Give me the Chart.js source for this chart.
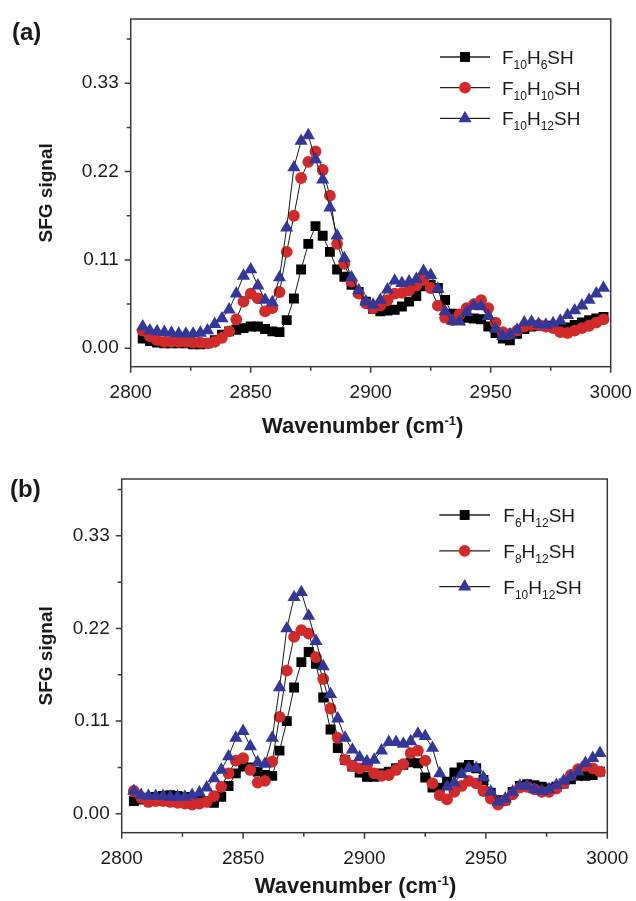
<!DOCTYPE html>
<html><head><meta charset="utf-8">
<script src="https://cdn.jsdelivr.net/npm/chart.js@4"></script>
<style>
html,body{margin:0;padding:0;background:#fff;}
#wrap{position:relative;width:636px;height:901px;overflow:hidden;}
canvas{position:absolute;left:0;}
</style></head><body>
<div id="wrap">
<canvas id="ca" width="636" height="450" style="top:0"></canvas>
<canvas id="cb" width="636" height="451" style="top:450px"></canvas>
</div>
<script>
// ---------- data ----------
const wavenumbers = [2805,2808,2811,2814,2817,2820,2823,2826,2829,2832,
  2835,2838,2841,2844,2847,2850,2853,2856,2859,2862,
  2865,2868,2871,2874,2877,2880,2883,2886,2889,2892,
  2895,2898,2901,2904,2907,2910,2913,2916,2919,2922,
  2925,2928,2931,2934,2937,2940,2943,2946,2949,2952,
  2955,2958,2961,2964,2967,2970,2973,2976,2979,2982,
  2985,2988,2991,2994,2997];

// panel (a)
const aF10H6 = [0.012,0.009,0.007,0.006,0.006,0.006,0.006,0.005,0.005,0.006,
  0.010,0.017,0.021,0.023,0.025,0.027,0.027,0.024,0.021,0.020,
  0.035,0.062,0.098,0.130,0.152,0.140,0.120,0.098,0.089,0.079,
  0.070,0.058,0.049,0.046,0.047,0.048,0.052,0.058,0.065,0.077,
  0.079,0.075,0.060,0.043,0.041,0.038,0.037,0.036,0.027,0.019,
  0.012,0.010,0.018,0.024,0.027,0.028,0.028,0.027,0.026,0.026,
  0.029,0.032,0.035,0.037,0.039];
const aF10H10 = [0.022,0.015,0.010,0.008,0.008,0.008,0.008,0.007,0.007,0.006,
  0.008,0.013,0.021,0.036,0.058,0.068,0.062,0.046,0.050,0.070,
  0.120,0.165,0.212,0.232,0.245,0.222,0.190,0.130,0.105,0.083,
  0.068,0.056,0.050,0.053,0.060,0.068,0.069,0.072,0.078,0.085,
  0.075,0.053,0.038,0.035,0.042,0.050,0.055,0.060,0.050,0.032,
  0.020,0.018,0.022,0.027,0.029,0.029,0.027,0.025,0.020,0.019,
  0.022,0.025,0.028,0.032,0.036];
const aF10H12 = [0.027,0.022,0.021,0.020,0.019,0.018,0.018,0.018,0.019,0.022,
  0.030,0.037,0.048,0.068,0.090,0.098,0.078,0.060,0.057,0.088,
  0.150,0.225,0.258,0.265,0.235,0.210,0.175,0.140,0.112,0.088,
  0.072,0.058,0.054,0.060,0.073,0.084,0.081,0.083,0.086,0.096,
  0.091,0.074,0.046,0.034,0.033,0.045,0.053,0.052,0.040,0.024,
  0.015,0.017,0.023,0.032,0.033,0.030,0.029,0.031,0.034,0.041,
  0.047,0.053,0.060,0.068,0.075];

// panel (b)
const bF6H12 = [0.015,0.017,0.019,0.020,0.021,0.022,0.021,0.020,0.019,0.017,
  0.015,0.013,0.020,0.033,0.048,0.056,0.055,0.050,0.046,0.045,
  0.075,0.110,0.150,0.180,0.192,0.178,0.138,0.100,0.078,0.064,
  0.056,0.049,0.044,0.044,0.048,0.050,0.054,0.058,0.061,0.060,
  0.043,0.031,0.031,0.038,0.049,0.055,0.058,0.054,0.040,0.025,
  0.016,0.016,0.026,0.033,0.035,0.034,0.032,0.030,0.032,0.036,
  0.041,0.045,0.045,0.046,0.050];
const bF8H12 = [0.027,0.019,0.014,0.015,0.015,0.014,0.013,0.012,0.011,0.012,
  0.014,0.021,0.032,0.048,0.063,0.066,0.052,0.037,0.039,0.062,
  0.115,0.170,0.210,0.218,0.214,0.186,0.160,0.125,0.090,0.064,
  0.057,0.054,0.057,0.048,0.045,0.046,0.052,0.059,0.072,0.075,
  0.063,0.036,0.022,0.017,0.026,0.033,0.039,0.036,0.027,0.018,
  0.011,0.016,0.023,0.031,0.032,0.029,0.026,0.026,0.030,0.036,
  0.046,0.053,0.057,0.054,0.050];
const bF10H12 = [0.027,0.022,0.021,0.021,0.021,0.020,0.020,0.020,0.022,0.025,
  0.031,0.042,0.052,0.068,0.090,0.098,0.080,0.061,0.059,0.090,
  0.150,0.220,0.257,0.263,0.235,0.205,0.175,0.142,0.113,0.090,
  0.076,0.067,0.062,0.064,0.075,0.085,0.085,0.083,0.086,0.095,
  0.092,0.078,0.048,0.032,0.037,0.047,0.054,0.054,0.043,0.026,
  0.014,0.018,0.026,0.033,0.033,0.029,0.027,0.029,0.034,0.039,
  0.044,0.050,0.060,0.066,0.072];

const legendA = ['F_{10}H_{6}SH', 'F_{10}H_{10}SH', 'F_{10}H_{12}SH'];
const legendB = ['F_{6}H_{12}SH', 'F_{8}H_{12}SH', 'F_{10}H_{12}SH'];

const xMajorTicks = [2800, 2850, 2900, 2950, 3000];
const xMinorTicks = [2825, 2875, 2925, 2975];
const yMajorTicks = [0.00, 0.11, 0.22, 0.33];
const yMinorTicks = [0.055, 0.165, 0.275, 0.385];
const xTitle = 'Wavenumber (cm^{-1})';
const yTitle = 'SFG signal';

// ---------- styles ----------
const FONT = '"Liberation Sans", Arial, Helvetica, sans-serif';
const AXIS = '#3a3a3a';
const TXT = '#1a1a1a';
const styles = [
  {color:'#000000', shape:'rect', r:7.0},
  {color:'#d12a2a', shape:'circle', r:5.9},
  {color:'#34379a', shape:'triangle', r:7.6}
];

function parseRich(s){
  const out=[]; const re=/([_^])\{([^}]*)\}|([^_^]+)/g; let m;
  while((m=re.exec(s))){ if(m[3]) out.push({t:m[3],k:0}); else out.push({t:m[2],k:m[1]==='_'?1:2}); }
  return out;
}
function richWidth(ctx, parts, size, small, bold){
  let w=0;
  parts.forEach(p=>{ctx.font=(bold?'bold ':'')+(p.k?small:size)+'px '+FONT; w+=ctx.measureText(p.t).width;});
  return w;
}
function drawRich(ctx, parts, x, y, size, small, off, bold){
  ctx.textAlign='left'; ctx.textBaseline='alphabetic';
  parts.forEach(p=>{
    ctx.font=(bold?'bold ':'')+(p.k?small:size)+'px '+FONT;
    const dy = p.k===1 ? off : (p.k===2 ? -off : 0);
    ctx.fillText(p.t, x, y+dy);
    x += ctx.measureText(p.t).width;
  });
}
function drawMarker(ctx, st, x, y){
  ctx.fillStyle=st.color; ctx.beginPath();
  if(st.shape==='rect'){ const s=Math.SQRT1_2*st.r; ctx.rect(x-s,y-s,2*s,2*s); }
  else if(st.shape==='circle'){ ctx.arc(x,y,st.r,0,Math.PI*2); }
  else { const r=st.r; ctx.moveTo(x,y-r); ctx.lineTo(x+r*Math.sin(2*Math.PI/3),y-r*Math.cos(2*Math.PI/3)); ctx.lineTo(x+r*Math.sin(4*Math.PI/3),y-r*Math.cos(4*Math.PI/3)); ctx.closePath(); }
  ctx.fill();
}

const decor = {
  id:'decor',
  afterDraw(chart, args, o){
    const {ctx, chartArea:a, scales:{x,y}} = chart;
    ctx.save();
    // frame
    ctx.strokeStyle=AXIS; ctx.lineWidth=1.5;
    ctx.strokeRect(a.left, a.top, a.right-a.left, a.bottom-a.top);
    ctx.beginPath();
    xMajorTicks.forEach(v=>{const p=x.getPixelForValue(v); ctx.moveTo(p,a.bottom); ctx.lineTo(p,a.bottom+6);});
    xMinorTicks.forEach(v=>{const p=x.getPixelForValue(v); ctx.moveTo(p,a.bottom); ctx.lineTo(p,a.bottom+4);});
    yMajorTicks.forEach(v=>{const p=y.getPixelForValue(v); ctx.moveTo(a.left,p); ctx.lineTo(a.left-6,p);});
    yMinorTicks.forEach(v=>{const p=y.getPixelForValue(v); ctx.moveTo(a.left,p); ctx.lineTo(a.left-4,p);});
    ctx.stroke();
    // legend
    o.labels.forEach((lab,i)=>{
      const ry = a.top + o.legTop + i*o.legGap;
      const lx1 = a.right + o.legLine[0], lx2 = a.right + o.legLine[1];
      ctx.strokeStyle='#222'; ctx.lineWidth=1.3;
      ctx.beginPath(); ctx.moveTo(lx1,ry); ctx.lineTo(lx2,ry); ctx.stroke();
      drawMarker(ctx, styles[i], (lx1+lx2)/2, ry);
      ctx.fillStyle=TXT;
      drawRich(ctx, parseRich(lab), a.right + o.legText, ry+7, 19, 12, 5, false);
    });
    // axis titles
    ctx.fillStyle=TXT;
    const tp = parseRich(xTitle);
    const tw = richWidth(ctx, tp, 22, 13, true);
    drawRich(ctx, tp, (a.left+a.right)/2 - o.xTitleShift - tw/2, o.xTitleY, 22, 13, 8, true);
    ctx.save();
    ctx.translate(47, (a.top+a.bottom)/2); ctx.rotate(-Math.PI/2);
    ctx.font='bold 19px '+FONT; ctx.textAlign='center'; ctx.textBaseline='middle';
    ctx.fillText(yTitle, 0, 0);
    ctx.restore();
    // panel letter
    ctx.font='bold 24px '+FONT; ctx.textAlign='left'; ctx.textBaseline='alphabetic';
    ctx.fillText(o.letter, o.letterX, o.letterY);
    ctx.restore();
  }
};

function makeChart(id, series, labels, geo){
  const datasets = series.map((vals,i)=>({
    label: labels[i],
    data: wavenumbers.map((w,j)=>({x:w, y:vals[j]})),
    borderColor:'#1a1a1a', borderWidth:1, tension:0,
    pointStyle: styles[i].shape, pointRadius: styles[i].r,
    pointBackgroundColor: styles[i].color, pointBorderWidth:0,
    pointHoverRadius: styles[i].r,
    order: 3-i
  }));
  return new Chart(document.getElementById(id), {
    type:'line',
    data:{datasets},
    plugins:[decor],
    options:{
      responsive:false, animation:false, devicePixelRatio:1,
      layout:{padding:{left:0, top:geo.top, right:geo.right, bottom:0}},
      plugins:{legend:{display:false}, tooltip:{enabled:false},
        decor:{labels, letter:geo.letter, letterX:geo.letterX, letterY:geo.letterY,
          legTop:geo.legTop, legGap:geo.legGap, legLine:geo.legLine, legText:geo.legText,
          xTitleY:geo.xTitleY, xTitleShift:geo.xTitleShift}},
      scales:{
        x:{type:'linear', min:2800, max:3000,
          afterFit:s=>{s.height=geo.xh; s.paddingLeft=0; s.paddingRight=0;},
          afterBuildTicks:s=>{s.ticks = xMajorTicks.map(v=>({value:v}));},
          grid:{display:false, drawTicks:false}, border:{display:false},
          ticks:{padding:geo.xpad, color:TXT, font:{family:FONT, size:19}, maxRotation:0, autoSkip:false,
            callback:v=>String(v)}},
        y:{type:'linear', min:geo.ymin, max:geo.ymax,
          afterFit:s=>{s.width=geo.yw; s.paddingTop=0; s.paddingBottom=0;},
          afterBuildTicks:s=>{s.ticks = yMajorTicks.map(v=>({value:v}));},
          grid:{display:false, drawTicks:false}, border:{display:false},
          ticks:{padding:12, color:TXT, font:{family:FONT, size:19}, autoSkip:false,
            callback:v=>v.toFixed(2)}}
      }
    }
  });
}

makeChart('ca', [aF10H6, aF10H10, aF10H12], legendA, {
  top:19, right:25.3, xh:83.3, yw:130.7, ymin:-0.023, ymax:0.410, xpad:15,
  letter:'(a)', letterX:12, letterY:40,
  legTop:38, legGap:30.7, legLine:[-170.7,-120.7], legText:-108.7,
  xTitleY:433, xTitleShift:8
});
makeChart('cb', [bF6H12, bF8H12, bF10H12], legendB, {
  top:29, right:28.7, xh:68.3, yw:121.7, ymin:-0.0225, ymax:0.3975, xpad:15,
  letter:'(b)', letterX:10, letterY:47,
  legTop:36, legGap:35.8, legLine:[-168,-117.3], legText:-104,
  xTitleY:443, xTitleShift:9
});
</script>
</body></html>
